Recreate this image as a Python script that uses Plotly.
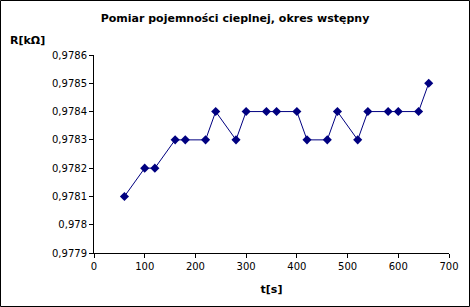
import plotly.graph_objects as go

t = [60, 100, 120, 160, 180, 220, 240, 280, 300, 340, 360, 400, 420, 460, 480, 520, 540, 580, 600, 640, 660]
R = [0.9781, 0.9782, 0.9782, 0.9783, 0.9783, 0.9783, 0.9784, 0.9783, 0.9784, 0.9784, 0.9784,
     0.9784, 0.9783, 0.9783, 0.9784, 0.9783, 0.9784, 0.9784, 0.9784, 0.9784, 0.9785]

y_ticks = [0.9779, 0.978, 0.9781, 0.9782, 0.9783, 0.9784, 0.9785, 0.9786]
y_ticktext = ["0,9779", "0,978", "0,9781", "0,9782", "0,9783", "0,9784", "0,9785", "0,9786"]
x_ticks = [0, 100, 200, 300, 400, 500, 600, 700]

L, R_, T, B = 94, 21, 55, 54
W, H = 470, 307
pw, ph = W - L - R_, H - T - B

fig = go.Figure()
fig.add_trace(go.Scatter(
    x=t, y=R, mode="lines+markers",
    line=dict(color="#000080", width=1),
    marker=dict(symbol="diamond", size=7, color="#000080"),
))

font = "DejaVu Sans, Verdana, sans-serif"
fig.update_layout(
    width=W, height=H,
    margin=dict(l=L, r=R_, t=T, b=B),
    paper_bgcolor="white", plot_bgcolor="white",
    showlegend=False,
    font=dict(family=font, size=10, color="black"),
    title=dict(text="<b>Pomiar pojemności cieplnej, okres wstępny</b>",
               x=0.5, xanchor="center", y=1 - 18 / H, yanchor="middle",
               font=dict(size=11)),
    xaxis=dict(range=[0, 700], tickvals=x_ticks, showgrid=False, zeroline=False,
               showline=True, linecolor="black", linewidth=1,
               ticks="outside", ticklen=4, tickcolor="black",
               title=dict(text="<b>t[s]</b>", font=dict(size=11), standoff=14)),
    yaxis=dict(range=[0.9779, 0.9786], tickvals=y_ticks, ticktext=y_ticktext,
               showgrid=False, zeroline=False,
               showline=True, linecolor="black", linewidth=1,
               ticks="outside", ticklen=4, tickcolor="black"),
    annotations=[dict(text="<b>R[kΩ]</b>", xref="paper", yref="paper",
                      x=(8 - L) / pw, y=(H - B - 40) / ph, xanchor="left", yanchor="middle",
                      showarrow=False, font=dict(size=11))],
    shapes=[dict(type="rect", xref="paper", yref="paper",
                 x0=(0.5 - L) / pw, x1=(W - 0.5 - L) / pw,
                 y0=(H - B - (H - 0.5)) / ph, y1=(H - B - 0.5) / ph,
                 line=dict(color="black", width=1))],
)

fig.write_html("out.html")
